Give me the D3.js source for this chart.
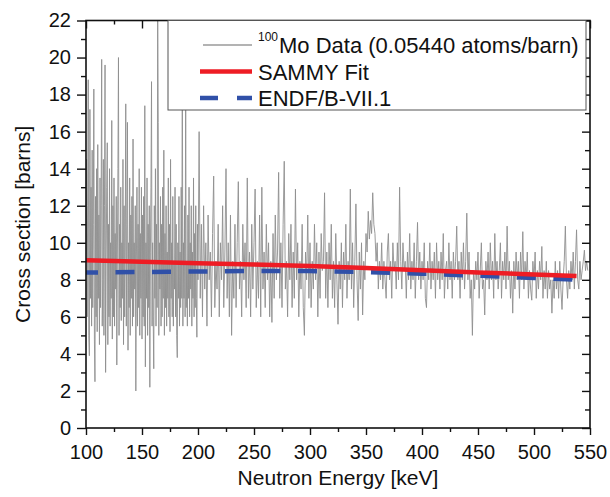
<!DOCTYPE html>
<html>
<head>
<meta charset="utf-8">
<script src="https://cdn.jsdelivr.net/npm/d3@7/dist/d3.min.js"></script>
<style>
body { margin: 0; background: #fff; }
text { font-family: 'Liberation Sans', Arial, sans-serif; fill: #111; }
</style>
</head>
<body>
<div id="chart-area"></div>
<script>
// 100Mo transmission data: 0.5 keV steps up to 200 keV, then 1 keV steps
var denseStart = 100, denseStep = 0.5
var denseValues = [
	9, 14.5, 6, 12, 18.8, 5, 3.9, 17.2, 7, 13,
	5.5, 15, 6.5, 11, 18.3, 4.8, 2.5, 12.5, 6, 14,
	5.2, 15.3, 7, 11.5, 4.5, 13.5, 6.5, 12, 19.9, 5.5,
	8, 14.5, 5, 12, 19.6, 3.0, 9, 13, 15.4, 4.5,
	11, 6, 14, 5.5, 10, 7, 16.6, 4.8, 12, 6,
	13.5, 5.5, 10.5, 7.5, 12.5, 3.4, 9, 14, 20.0, 5,
	11, 6.5, 13, 5.8, 10, 7, 14.5, 4.5, 12, 6,
	9.5, 17.5, 5.5, 11, 16.5, 4.2, 10, 6.5, 13.5, 5,
	11.5, 7, 12.5, 5.5, 15.6, 6, 10, 7.5, 12, 2.0,
	9, 13, 5.5, 11, 6.5, 14, 5, 10.5, 7, 13,
	4.8, 11.5, 6, 12.5, 5.5, 17.4, 3.3, 10, 7, 13.5,
	5, 11, 6.5, 12, 2.2, 9.5, 13, 18.7, 5.5, 10,
	6, 3.2, 12, 7, 14, 5.5, 11, 6.5, 22.5, 16.5,
	5, 10, 7.5, 12.5, 5.5, 11, 6, 13, 7, 15,
	5, 10.5, 6.5, 12, 5.5, 9.5, 7, 13.5, 6, 11,
	5.2, 14.5, 7, 10, 6, 12.5, 5.5, 9, 7.5, 13,
	6, 11, 5, 3.8, 10, 7, 12.5, 5.5, 9.5, 6.5,
	13, 7, 21, 5.5, 10, 7, 12, 6, 18.5, 6.5,
	9, 5.5, 11.5, 7, 13, 6, 10, 7.5, 12, 5.5,
	9.5, 7, 13.5, 6, 10.5, 6.5, 12, 7, 4.9, 11,
	8
]
var sparseStart = 201, sparseStep = 1
var sparseValues = [
	16, 7, 11, 6, 12, 7.5, 10, 5.5, 11.5, 8,
	9.5, 6, 10.5, 13.6, 6.5, 9, 7.5, 11, 6, 10,
	8, 12, 6.5, 9.5, 14, 7, 10, 6, 11.5, 5,
	9, 7, 11, 6.5, 10, 13.3, 7.5, 9, 6, 11,
	8, 10, 6.5, 13.5, 7, 9.5, 6, 11, 7.5, 10,
	12.9, 6.5, 9, 7, 11.5, 6, 13, 7.5, 9.5, 6.5,
	11, 8, 10, 6, 9, 5.7, 10.5, 7, 11.5, 8,
	9.5, 13.8, 7, 10, 6.5, 11, 14.4, 7.5, 9, 6,
	10.5, 8, 11, 6.5, 9.5, 7, 12.9, 8, 10, 6,
	9, 7.5, 11, 6.5, 5, 9.5, 8, 11.5, 7, 10,
	6.5, 9, 7.5, 11, 8, 10, 6, 9.5, 7, 10.5,
	8.5, 9, 12.7, 7, 9.5, 6.5, 10, 8, 11, 7,
	9, 6.5, 10.5, 8, 5.6, 9, 7.5, 10, 6.5, 9.5,
	8, 11, 7, 9, 8, 12.9, 7.5, 10, 6.5, 9,
	12.1, 8, 5.8, 9.5, 7.5, 10, 6.1, 9, 8, 10.5,
	9.5, 11.7, 10.2, 11.2, 10.5, 12.7, 11, 10.5, 9, 10,
	7.5, 9, 8, 10, 7.5, 9, 8, 7, 9.5, 10.5,
	8, 9, 7, 10, 8.5, 9, 7.5, 10, 8, 13,
	9, 7.5, 10, 8.5, 9, 7, 9.5, 8, 10.5, 7.5,
	9, 8, 10, 7, 9, 11.1, 8, 9.5, 7.5, 9,
	8, 10, 7, 6.5, 9, 8, 10, 7.5, 9, 8,
	9.5, 7, 10, 8, 9, 7.5, 9.5, 8, 10.5, 7,
	8.5, 9, 7.5, 10, 8, 9, 7, 9.5, 8, 9,
	10.9, 8, 9, 7, 9.5, 8, 10, 7.5, 9, 11.6,
	8, 9.5, 7, 8, 5, 8.5, 7.5, 9, 8, 9.5,
	7, 8.5, 10, 7.5, 8, 6.1, 9, 8, 9.5, 7.5,
	10, 8, 9, 7, 10.5, 8, 9, 7.5, 8.5, 10,
	7, 9, 8, 9.5, 7.5, 10.9, 8, 9, 7, 8.5,
	6.2, 9, 7.5, 9.5, 8, 9, 7, 9.5, 8, 10.6,
	7.5, 9, 8, 9.5, 7, 8.5, 7.5, 6.9, 9, 8,
	9.5, 7, 8.5, 7.5, 9, 8, 9.8, 7, 8.5, 7.5,
	9, 7, 8.5, 7.5, 8, 6.2, 8, 7, 9, 7.5,
	8.5, 7, 9, 7.5, 6.4, 8, 9, 10.9, 8, 7,
	8.5, 7.5, 9, 8, 9.5, 7.5, 9, 10.7, 8, 7.5,
	9, 8, 8.5, 9, 9.6, 8.5, 9, 8.5
]

var fitEnergy = [100, 150, 200, 250, 300, 350, 400, 450, 500, 538]
var fitValues = [9.05, 8.98, 8.9, 8.83, 8.75, 8.64, 8.52, 8.4, 8.29, 8.2]

var endfEnergy = [100, 150, 200, 250, 300, 350, 400, 450, 500, 550]
var endfValues = [8.39, 8.42, 8.45, 8.48, 8.47, 8.42, 8.33, 8.22, 8.1, 7.98]

var xTicks = [100, 150, 200, 250, 300, 350, 400, 450, 500, 550]
var xMinor = [125, 175, 225, 275, 325, 375, 425, 475, 525]
var yTicks = [0, 2, 4, 6, 8, 10, 12, 14, 16, 18, 20, 22]
var yMinor = [1, 3, 5, 7, 9, 11, 13, 15, 17, 19, 21]

var legendLabels = ['Mo Data (0.05440 atoms/barn)', 'SAMMY Fit', 'ENDF/B-VII.1']

var margin = { top: 20.5, left: 86, bottom: 69, right: 20 }
var width = 610 - margin.left - margin.right
var height = 497 - margin.top - margin.bottom

var svg = d3.select('#chart-area').append('svg')
	.attr('width', 610)
	.attr('height', 497)

var g = svg.append('g').attr('transform', `translate(${ margin.left }, ${ margin.top })`)

var x = d3.scaleLinear().domain([100, 550]).range([0, width])
var y = d3.scaleLinear().domain([0, 22]).range([height, 0])

svg.append('defs').append('clipPath').attr('id', 'plot-clip')
	.append('rect').attr('width', width).attr('height', height)

var moData = denseValues.map((v, i) => ({ e: denseStart + i * denseStep, v: v }))
	.concat(sparseValues.map((v, i) => ({ e: sparseStart + i * sparseStep, v: v })))
var fitData = fitEnergy.map((e, i) => ({ e: e, v: fitValues[i] }))
var endfData = endfEnergy.map((e, i) => ({ e: e, v: endfValues[i] }))

var line = d3.line().x(d => x(d.e)).y(d => y(d.v))

var plot = g.append('g').attr('clip-path', 'url(#plot-clip)')

plot.append('path').datum(moData)
	.attr('d', line)
	.attr('fill', 'none')
	.attr('stroke', '#8e8e8e')
	.attr('stroke-width', 0.9)

plot.append('path').datum(endfData)
	.attr('d', line)
	.attr('fill', 'none')
	.attr('stroke', '#3050a8')
	.attr('stroke-width', 4.5)
	.attr('stroke-dasharray', '19,17.5')
	.attr('stroke-dashoffset', 7)

plot.append('path').datum(fitData)
	.attr('d', line)
	.attr('fill', 'none')
	.attr('stroke', '#ee1c24')
	.attr('stroke-width', 4.5)

// axes: labelled left/bottom, ticks only on top/right
function styleAxis(sel) {
	sel.select('.domain').remove()
	sel.selectAll('line').attr('stroke', '#111').attr('stroke-width', 1.4)
	sel.selectAll('text').attr('font-size', '20px').attr('fill', '#111')
		.attr('font-family', "'Liberation Sans', Arial, sans-serif")
}

g.append('g').attr('transform', `translate(0, ${height})`)
	.call(d3.axisBottom(x).tickValues(xTicks).tickSize(7).tickPadding(10))
	.call(styleAxis)
g.append('g').attr('transform', `translate(0, ${height})`)
	.call(d3.axisBottom(x).tickValues(xMinor).tickSize(4).tickFormat(''))
	.call(styleAxis)
g.append('g')
	.call(d3.axisTop(x).tickValues(xTicks).tickSize(-8).tickFormat(''))
	.call(styleAxis)
g.append('g')
	.call(d3.axisTop(x).tickValues(xMinor).tickSize(-4).tickFormat(''))
	.call(styleAxis)
g.append('g')
	.call(d3.axisLeft(y).tickValues(yTicks).tickSize(9).tickPadding(6))
	.call(styleAxis)
g.append('g')
	.call(d3.axisLeft(y).tickValues(yMinor).tickSize(5).tickFormat(''))
	.call(styleAxis)
g.append('g').attr('transform', `translate(${width}, 0)`)
	.call(d3.axisRight(y).tickValues(yTicks).tickSize(-8).tickFormat(''))
	.call(styleAxis)
g.append('g').attr('transform', `translate(${width}, 0)`)
	.call(d3.axisRight(y).tickValues(yMinor).tickSize(-5).tickFormat(''))
	.call(styleAxis)

g.append('rect')
	.attr('width', width).attr('height', height)
	.attr('fill', 'none').attr('stroke', '#111').attr('stroke-width', 1.6)

g.append('text')
	.attr('x', width / 2)
	.attr('y', height + 57)
	.attr('text-anchor', 'middle')
	.attr('font-size', '21px')
	.text('Neutron Energy [keV]')

g.append('text')
	.attr('x', -(height / 2))
	.attr('y', -56)
	.attr('text-anchor', 'middle')
	.attr('transform', 'rotate(-90)')
	.attr('font-size', '21px')
	.text('Cross section [barns]')

// legend
var legend = svg.append('g').attr('transform', 'translate(168, 20.5)')
legend.append('rect')
	.attr('width', 418).attr('height', 89.5)
	.attr('fill', '#fff').attr('stroke', '#555').attr('stroke-width', 1)

var legendStyles = [
	{ stroke: '#9a9a9a', width: 1.3, dash: null },
	{ stroke: '#ee1c24', width: 4.5, dash: null },
	{ stroke: '#3050a8', width: 4.5, dash: '18,19' }
]

legendLabels.forEach((label, i) => {
	var ly = 24.5 + i * 26.5
	var s = legendStyles[i]
	legend.append('line')
		.attr('x1', i === 0 ? 35 : 32).attr('x2', 84)
		.attr('y1', ly).attr('y2', ly)
		.attr('stroke', s.stroke).attr('stroke-width', s.width)
		.attr('stroke-dasharray', s.dash)
	var t = legend.append('text')
		.attr('x', 90)
		.attr('y', ly + 8)
		.attr('font-size', '22px')
	if (i === 0) {
		t.append('tspan').attr('font-size', '12px').attr('dy', -12).text('100')
		t.append('tspan').attr('dy', 12).attr('dx', 1).text(label)
	} else {
		t.text(label)
	}
})
</script>
</body>
</html>
